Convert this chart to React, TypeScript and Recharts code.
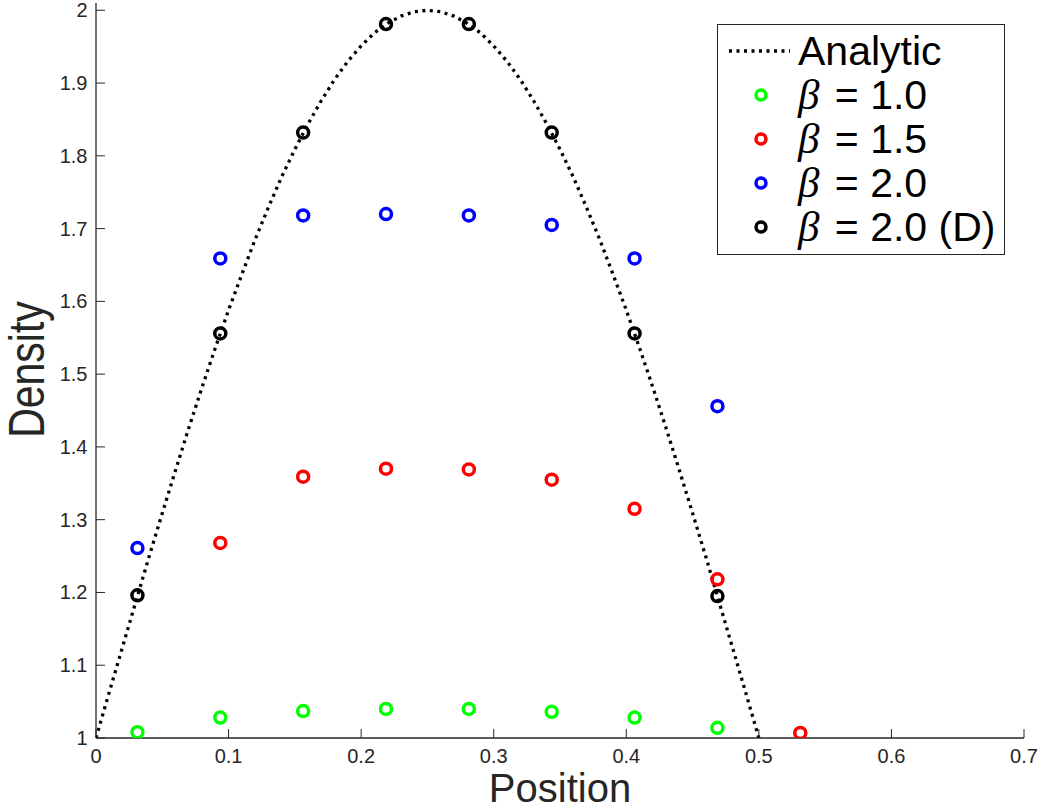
import React from 'react';
import { ComposedChart, Line, Scatter, XAxis, YAxis, Legend } from 'recharts';

const AXIS_COLOR = '#262626';
const FONT = '"Liberation Sans", Arial, Helvetica, sans-serif';
const GREEK_FONT = '"Liberation Serif", "DejaVu Serif", serif';

// Axis ticks
const X_TICKS = [0, 0.1, 0.2, 0.3, 0.4, 0.5, 0.6, 0.7];
const Y_TICKS = [1, 1.1, 1.2, 1.3, 1.4, 1.5, 1.6, 1.7, 1.8, 1.9, 2];

// Analytic density profile
const CURVE_X = [
  0, 0.01, 0.02, 0.03, 0.04, 0.05, 0.06, 0.07, 0.08, 0.09, 0.1, 0.11, 0.12, 0.13, 0.14, 0.15, 0.16,
  0.17, 0.18, 0.19, 0.2, 0.21, 0.22, 0.23, 0.24, 0.25, 0.26, 0.27, 0.28, 0.29, 0.3, 0.31, 0.32, 0.33,
  0.34, 0.35, 0.36, 0.37, 0.38, 0.39, 0.4, 0.41, 0.42, 0.43, 0.44, 0.45, 0.46, 0.47, 0.48, 0.49, 0.5,
];
const CURVE_Y = [
  1.0, 1.063, 1.125, 1.187, 1.249, 1.309, 1.368, 1.426, 1.482, 1.536, 1.588, 1.637, 1.685, 1.729,
  1.771, 1.809, 1.844, 1.876, 1.905, 1.93, 1.951, 1.969, 1.982, 1.992, 1.998, 2.0, 1.998, 1.992,
  1.982, 1.969, 1.951, 1.93, 1.905, 1.876, 1.844, 1.809, 1.771, 1.729, 1.685, 1.637, 1.588, 1.536,
  1.482, 1.426, 1.368, 1.309, 1.249, 1.187, 1.125, 1.063, 1.0,
];

// Cell-centre positions of the simulated profiles
const CELLS = [0.03125, 0.09375, 0.15625, 0.21875, 0.28125, 0.34375, 0.40625, 0.46875];
const CELLS_SHIFTED = [0.09375, 0.15625, 0.21875, 0.28125, 0.34375, 0.40625, 0.46875, 0.53125];

// Simulated densities
const BETA_10 = [1.008, 1.028, 1.037, 1.04, 1.04, 1.036, 1.028, 1.014];
const BETA_15 = [1.268, 1.359, 1.37, 1.369, 1.355, 1.315, 1.218, 1.007];
const BETA_20 = [1.261, 1.659, 1.718, 1.72, 1.718, 1.705, 1.659, 1.456];
const BETA_20_D = [1.196, 1.556, 1.832, 1.981, 1.981, 1.832, 1.556, 1.195];

const zip = (xs: number[], ys: number[]) => xs.map((x, i) => ({ x, y: ys[i] }));

const curveData = zip(CURVE_X, CURVE_Y);
const beta10Data = zip(CELLS, BETA_10);
const beta15Data = zip(CELLS_SHIFTED, BETA_15);
const beta20Data = zip(CELLS, BETA_20);
const beta20DData = zip(CELLS, BETA_20_D);

const TICK_LEN = 9;
const DOTTED = '3 4.5';

const BottomTick = (props: any) => {
  const { x, y, payload } = props;
  return (
    <g>
      <line x1={x} x2={x} y1={y} y2={y - TICK_LEN} stroke={AXIS_COLOR} strokeWidth={1} />
      <text x={x} y={y + 25} textAnchor="middle" fontFamily={FONT} fontSize={20} fill={AXIS_COLOR}>
        {String(payload.value)}
      </text>
    </g>
  );
};

const LeftTick = (props: any) => {
  const { x, y, payload } = props;
  return (
    <g>
      <line x1={x} x2={x + TICK_LEN} y1={y} y2={y} stroke={AXIS_COLOR} strokeWidth={1} />
      <text x={x - 8.5} y={y + 7} textAnchor="end" fontFamily={FONT} fontSize={20} fill={AXIS_COLOR}>
        {String(payload.value)}
      </text>
    </g>
  );
};

const TopTick = (props: any) => {
  const { x, y } = props;
  return <line x1={x} x2={x} y1={y} y2={y + TICK_LEN} stroke={AXIS_COLOR} strokeWidth={1} />;
};

const RightTick = (props: any) => {
  const { x, y } = props;
  return <line x1={x - TICK_LEN} x2={x} y1={y} y2={y} stroke={AXIS_COLOR} strokeWidth={1} />;
};

const ring = (color: string) => (props: any) => {
  const { cx, cy } = props;
  if (cx == null || cy == null) return <g />;
  return <circle cx={cx} cy={cy} r={5.5} fill="none" stroke={color} strokeWidth={3.5} />;
};

const SERIES_COLORS: Record<string, string> = {
  'β = 1.0': '#00ff00',
  'β = 1.5': '#ff0000',
  'β = 2.0': '#0000ff',
  'β = 2.0 (D)': '#000000',
};

const renderName = (name: string) => {
  if (name.startsWith('β')) {
    return (
      <>
        <span
          style={{
            fontFamily: GREEK_FONT,
            fontStyle: 'italic',
            fontSize: 43,
            display: 'inline-block',
            paddingRight: 4,
          }}
        >
          β
        </span>
        {name.slice(1)}
      </>
    );
  }
  return name;
};

const LegendBox = (props: any) => {
  const payload = props.payload || [];
  return (
    <div
      style={{
        width: 288,
        height: 231,
        boxSizing: 'border-box',
        border: `1px solid ${AXIS_COLOR}`,
        background: '#fff',
        paddingTop: 4,
      }}
    >
      {payload.map((entry: any) => {
        const name = String(entry.value);
        const color = SERIES_COLORS[name] || entry.color || '#000';
        return (
          <div key={name} style={{ display: 'flex', alignItems: 'center', height: 44 }}>
            <svg width={80} height={44} style={{ flex: 'none', display: 'block' }}>
              {entry.type === 'line' ? (
                <line x1={11} x2={72} y1={22} y2={22} stroke="#000" strokeWidth={3.3} strokeDasharray={DOTTED} />
              ) : (
                <circle cx={43} cy={22} r={5} fill="none" stroke={color} strokeWidth={3.5} />
              )}
            </svg>
            <span
              style={{
                fontFamily: FONT,
                fontSize: 41,
                lineHeight: '44px',
                color: '#000',
                whiteSpace: 'nowrap',
              }}
            >
              {renderName(name)}
            </span>
          </div>
        );
      })}
    </div>
  );
};

const XTitle = (props: any) => {
  const vb = props.viewBox || { x: 0, y: 0, width: 0, height: 0 };
  return (
    <text
      x={vb.x + vb.width / 2}
      y={vb.y + 64}
      textAnchor="middle"
      fontFamily={FONT}
      fontSize={40}
      fill={AXIS_COLOR}
    >
      Position
    </text>
  );
};

const YTitle = (props: any) => {
  const vb = props.viewBox || { x: 0, y: 0, width: 0, height: 0 };
  const tx = vb.x + 44;
  const ty = vb.y + vb.height / 2 - 1;
  // rotated title, slightly stretched across its baseline
  return (
    <text
      x={0}
      y={0}
      transform={`translate(${tx}, ${ty}) rotate(-90) scale(1, 1.2)`}
      textAnchor="middle"
      fontFamily={FONT}
      fontSize={41}
      fill={AXIS_COLOR}
    >
      Density
    </text>
  );
};

export default function App() {
  return (
    <div style={{ position: 'absolute', left: 0, top: 0, width: 1044, height: 812, background: '#fff' }}>
      <ComposedChart width={1044} height={812} margin={{ top: 3, right: 20, bottom: 0, left: 0 }}>
        <XAxis
          xAxisId={0}
          dataKey="x"
          type="number"
          domain={[0, 0.7]}
          ticks={X_TICKS}
          orientation="bottom"
          height={74}
          tickSize={0}
          tickMargin={0}
          tickLine={false}
          tick={<BottomTick />}
          axisLine={{ stroke: AXIS_COLOR, strokeWidth: 1.3 }}
          label={{ content: XTitle }}
          allowDataOverflow
        />
        <XAxis
          xAxisId="top"
          dataKey="x"
          type="number"
          domain={[0, 0.7]}
          ticks={X_TICKS}
          orientation="top"
          height={0}
          tickSize={0}
          tickMargin={0}
          tickLine={false}
          tick={<TopTick />}
          axisLine={{ stroke: AXIS_COLOR, strokeWidth: 1.3 }}
          allowDataOverflow
        />
        <YAxis
          yAxisId={0}
          type="number"
          domain={[1, 2.01]}
          ticks={Y_TICKS}
          orientation="left"
          width={96}
          tickSize={0}
          tickMargin={0}
          tickLine={false}
          tick={<LeftTick />}
          axisLine={{ stroke: AXIS_COLOR, strokeWidth: 1.3 }}
          label={{ content: YTitle }}
          allowDataOverflow
        />
        <YAxis
          yAxisId="right"
          type="number"
          domain={[1, 2.01]}
          ticks={Y_TICKS}
          orientation="right"
          width={0}
          tickSize={0}
          tickMargin={0}
          tickLine={false}
          tick={<RightTick />}
          axisLine={{ stroke: AXIS_COLOR, strokeWidth: 1.3 }}
          allowDataOverflow
        />
        <Legend
          layout="vertical"
          align="center"
          verticalAlign="middle"
          wrapperStyle={{ left: 717, top: 24, width: 288 }}
          content={<LegendBox />}
        />
        <Line
          name="Analytic"
          legendType="line"
          data={curveData}
          dataKey="y"
          type="linear"
          stroke="#000000"
          strokeWidth={3.3}
          strokeDasharray={DOTTED}
          dot={false}
          activeDot={false}
          isAnimationActive={false}
        />
        <Scatter
          name="β = 1.0"
          legendType="circle"
          data={beta10Data}
          dataKey="y"
          fill="#00ff00"
          shape={ring('#00ff00')}
          isAnimationActive={false}
        />
        <Scatter
          name="β = 1.5"
          legendType="circle"
          data={beta15Data}
          dataKey="y"
          fill="#ff0000"
          shape={ring('#ff0000')}
          isAnimationActive={false}
        />
        <Scatter
          name="β = 2.0"
          legendType="circle"
          data={beta20Data}
          dataKey="y"
          fill="#0000ff"
          shape={ring('#0000ff')}
          isAnimationActive={false}
        />
        <Scatter
          name="β = 2.0 (D)"
          legendType="circle"
          data={beta20DData}
          dataKey="y"
          fill="#000000"
          shape={ring('#000000')}
          isAnimationActive={false}
        />
      </ComposedChart>
    </div>
  );
}
